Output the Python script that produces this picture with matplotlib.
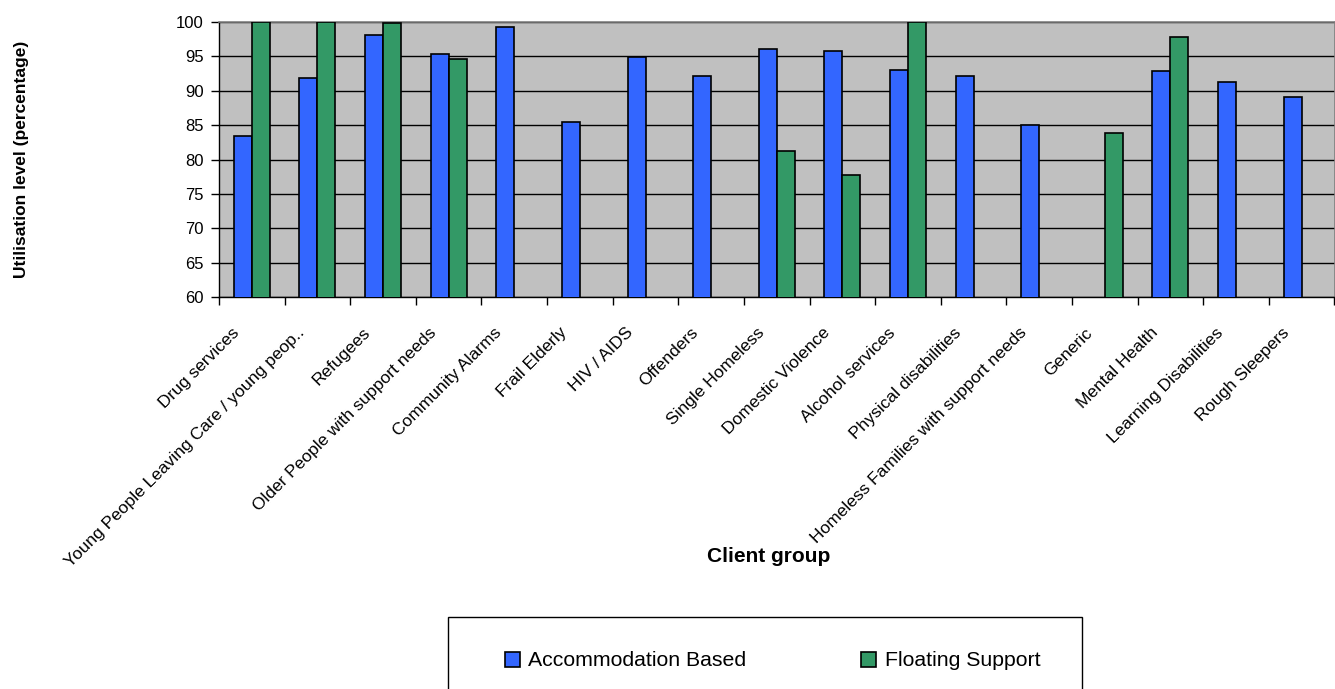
import numpy as np
import matplotlib
matplotlib.use("Agg")
import matplotlib.pyplot as plt
from matplotlib.patches import Rectangle
from matplotlib.transforms import ScaledTranslation

plt.rcParams["font.family"] = ["Liberation Sans", "DejaVu Sans"]

# -----------------------------
# Utilisation by client group
# -----------------------------
groups = [
    "Drug services",
    "Young People Leaving Care / young peop..",
    "Refugees",
    "Older People with support needs",
    "Community Alarms",
    "Frail Elderly",
    "HIV / AIDS",
    "Offenders",
    "Single Homeless",
    "Domestic Violence",
    "Alcohol services",
    "Physical disabilities",
    "Homeless Families with support needs",
    "Generic",
    "Mental Health",
    "Learning Disabilities",
    "Rough Sleepers",
]

accommodation = [83.4, 91.8, 98.1, 95.3, 99.2, 85.4, 94.9, 92.2, 96.1, 95.8,
                 93.0, 92.2, 85.0, np.nan, 92.8, 91.3, 89.1]
floating = [100.0, 100.0, 99.9, 94.6, np.nan, np.nan, np.nan, np.nan, 81.2, 77.8,
            100.0, np.nan, np.nan, 83.8, 97.8, np.nan, np.nan]

y_ticks = list(range(60, 101, 5))

# -----------------------------
# Figure and axes
# -----------------------------
W, H = 1335, 689
fig = plt.figure(figsize=(W / 100, H / 100), dpi=100)
ax = fig.add_axes([219 / W, 1 - 297 / H, (1334.5 - 219) / W, (297 - 22) / H])

x = np.arange(len(groups))
bw = 0.274
blue = "#3366FF"
green = "#339966"

b1 = ax.bar(x - bw / 2, accommodation, bw, bottom=0, color=blue,
            edgecolor="black", linewidth=1.2, label="Accommodation Based", zorder=3)
b2 = ax.bar(x + bw / 2, floating, bw, bottom=0, color=green,
            edgecolor="black", linewidth=1.2, label="Floating Support", zorder=3)

ax.set_facecolor("#C0C0C0")
ax.set_xlim(-0.5, len(groups) - 0.5)
ax.set_ylim(60, 100)
ax.set_yticks(y_ticks)
ax.yaxis.grid(True, color="black", linewidth=1.0, zorder=1)
ax.set_axisbelow(True)

for side in ["top", "right"]:
    ax.spines[side].set_color("#808080")
    ax.spines[side].set_linewidth(1.2)
for side in ["left", "bottom"]:
    ax.spines[side].set_color("black")
    ax.spines[side].set_linewidth(1.0)

ax.tick_params(axis="y", direction="out", length=6, width=1, pad=5, labelsize=12)

# category boundaries carry the tick marks, centres carry the labels
ax.set_xticks(np.arange(len(groups) + 1) - 0.5, minor=True)
ax.tick_params(axis="x", which="minor", direction="out", length=6, width=1)
ax.set_xticks(x)
ax.set_xticklabels(groups, rotation=45, ha="right", va="center",
                   rotation_mode="anchor", fontsize=12.5)
ax.tick_params(axis="x", which="major", length=0, pad=24)
shift = ScaledTranslation(-15 / 100, 0, fig.dpi_scale_trans)
for lab in ax.get_xticklabels():
    lab.set_transform(lab.get_transform() + shift)

fig.text(22 / W, 1 - 159 / H, "Utilisation level (percentage)", rotation=90,
         ha="center", va="center", fontsize=12.5, fontweight="bold")
fig.text(769 / W, 1 - 557 / H, "Client group", ha="center", va="center",
         fontsize=15, fontweight="bold")

# -----------------------------
# Legend box
# -----------------------------
fig.patches.append(Rectangle((448 / W, -0.05), (1082 - 448) / W, (689 - 617) / H + 0.05,
                             transform=fig.transFigure, facecolor="white",
                             edgecolor="black", linewidth=1.0, zorder=0))
fig.legend(handles=[b1, b2], ncol=2, loc="center left",
           bbox_to_anchor=(505 / W, 1 - 661 / H), frameon=False, fontsize=15.3,
           handlelength=0.7, handleheight=0.7, handletextpad=0.4,
           columnspacing=5.4, borderpad=0, borderaxespad=0)

fig.savefig("out.png", dpi=100)
